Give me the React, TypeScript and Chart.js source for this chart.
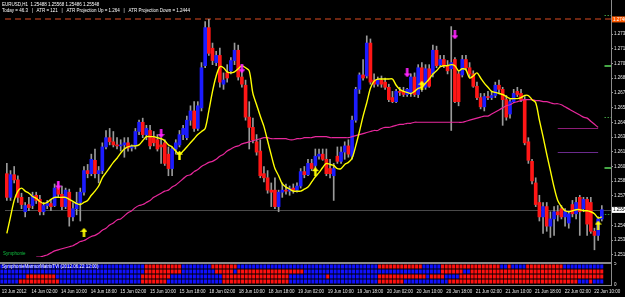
import React, { useEffect, useRef } from 'react';
import { Chart, registerables } from 'chart.js';
Chart.register(...registerables);

// ---------- DATA ----------
const timeTicks = ['13 Jun 2012','14 Jun 02:00','14 Jun 10:00','14 Jun 18:00','15 Jun 02:00','15 Jun 10:00','15 Jun 18:00','18 Jun 02:00','18 Jun 10:00','18 Jun 18:00','19 Jun 02:00','19 Jun 10:00','19 Jun 18:00','20 Jun 02:00','20 Jun 10:00','20 Jun 18:00','21 Jun 02:00','21 Jun 10:00','21 Jun 18:00','22 Jun 02:00','22 Jun 10:00'];
const SLOTS = 165; // H1 bar slots incl. chart shift

const opens = [1.2590,1.2567,1.2589,1.2584,1.2567,1.2553,1.2560,1.2559,1.2569,1.2565,
1.2553,1.2559,1.2561,1.2559,1.2576,1.2570,1.2558,1.2572,1.2548,1.2556,
1.2562,1.2572,1.2593,1.2590,1.2603,1.2590,1.2593,1.2616,1.2625,1.2621,
1.2618,1.2617,1.2618,1.2620,1.2615,1.2617,1.2631,1.2640,1.2628,1.2632,
1.2625,1.2623,1.2618,1.2620,1.2609,1.2595,1.2614,1.2618,1.2628,1.2625,
1.2642,1.2651,1.2634,1.2654,1.2695,1.2732,1.2712,1.2698,1.2705,1.2677,
1.2688,1.2690,1.2700,1.2710,1.2684,1.2676,1.2645,1.2635,1.2621,1.2612,
1.2590,1.2586,1.2574,1.2574,1.2558,1.2572,1.2574,1.2573,1.2576,1.2574,
1.2578,1.2592,1.2589,1.2600,1.2598,1.2607,1.2609,1.2604,1.2595,1.2588,
1.2607,1.2602,1.2611,1.2617,1.2607,1.2642,1.2672,1.2686,1.2685,1.2717,
1.2681,1.2677,1.2681,1.2679,1.2674,1.2664,1.2660,1.2670,1.2670,1.2667,
1.2668,1.2684,1.2667,1.2693,1.2674,1.2692,1.2687,1.2710,1.2696,1.2701,
1.2695,1.2692,1.2701,1.2687,1.2686,1.2701,1.2693,1.2687,1.2675,1.2664,
1.2655,1.2665,1.2664,1.2666,1.2676,1.2672,1.2662,1.2648,1.2660,1.2670,
1.2668,1.2662,1.2621,1.2602,1.2581,1.2562,1.2548,1.2558,1.2539,1.2546,
1.2553,1.2556,1.2548,1.2542,1.2560,1.2551,1.2567,1.2556,1.2565,1.2562,
1.2534,1.2530,1.2546];

const highs = [1.2600,1.2593,1.2597,1.2588,1.2571,1.2562,1.2567,1.2572,1.2572,1.2569,
1.2562,1.2564,1.2565,1.2580,1.2582,1.2578,1.2576,1.2575,1.2562,1.2572,
1.2576,1.2597,1.2599,1.2609,1.2614,1.2597,1.2620,1.2632,1.2634,1.2631,
1.2625,1.2623,1.2625,1.2625,1.2618,1.2634,1.2642,1.2644,1.2637,1.2637,
1.2631,1.2628,1.2625,1.2623,1.2616,1.2616,1.2623,1.2632,1.2637,1.2646,
1.2656,1.2660,1.2660,1.2698,1.2738,1.2740,1.2717,1.2709,1.2712,1.2688,
1.2696,1.2703,1.2717,1.2715,1.2690,1.2681,1.2660,1.2644,1.2628,1.2623,
1.2597,1.2593,1.2581,1.2586,1.2574,1.2581,1.2580,1.2578,1.2580,1.2581,
1.2595,1.2597,1.2604,1.2604,1.2614,1.2614,1.2614,1.2614,1.2604,1.2600,
1.2616,1.2616,1.2621,1.2623,1.2646,1.2674,1.2688,1.2701,1.2724,1.2721,
1.2687,1.2684,1.2685,1.2683,1.2677,1.2670,1.2672,1.2674,1.2674,1.2673,
1.2687,1.2688,1.2696,1.2698,1.2696,1.2696,1.2715,1.2714,1.2705,1.2705,
1.2700,1.2733,1.2703,1.2690,1.2705,1.2705,1.2698,1.2690,1.2679,1.2668,
1.2668,1.2670,1.2670,1.2679,1.2681,1.2674,1.2666,1.2662,1.2672,1.2674,
1.2672,1.2665,1.2625,1.2604,1.2586,1.2569,1.2562,1.2562,1.2553,1.2558,
1.2559,1.2559,1.2556,1.2553,1.2564,1.2567,1.2569,1.2567,1.2567,1.2567,
1.2537,1.2548,1.2559];

const lows = [1.2564,1.2564,1.2581,1.2562,1.2556,1.2548,1.2554,1.2556,1.2561,1.2550,
1.2550,1.2556,1.2554,1.2558,1.2567,1.2555,1.2556,1.2539,1.2544,1.2550,
1.2544,1.2569,1.2586,1.2588,1.2586,1.2581,1.2590,1.2614,1.2618,1.2616,
1.2614,1.2612,1.2606,1.2612,1.2612,1.2614,1.2628,1.2625,1.2623,1.2614,
1.2617,1.2612,1.2600,1.2598,1.2588,1.2588,1.2609,1.2616,1.2623,1.2623,
1.2637,1.2631,1.2632,1.2651,1.2693,1.2705,1.2696,1.2695,1.2674,1.2672,
1.2679,1.2687,1.2696,1.2681,1.2674,1.2642,1.2614,1.2620,1.2608,1.2586,
1.2582,1.2571,1.2558,1.2556,1.2553,1.2567,1.2570,1.2569,1.2571,1.2572,
1.2576,1.2586,1.2588,1.2593,1.2595,1.2604,1.2603,1.2588,1.2586,1.2564,
1.2600,1.2600,1.2604,1.2606,1.2604,1.2640,1.2668,1.2681,1.2683,1.2677,
1.2674,1.2675,1.2674,1.2672,1.2660,1.2659,1.2659,1.2666,1.2665,1.2665,
1.2665,1.2665,1.2664,1.2670,1.2672,1.2674,1.2684,1.2693,1.2694,1.2693,
1.2687,1.2632,1.2659,1.2656,1.2684,1.2691,1.2684,1.2674,1.2662,1.2653,
1.2651,1.2662,1.2662,1.2664,1.2668,1.2637,1.2642,1.2644,1.2659,1.2665,
1.2660,1.2618,1.2600,1.2580,1.2558,1.2544,1.2532,1.2534,1.2528,1.2530,
1.2544,1.2546,1.2539,1.2537,1.2548,1.2546,1.2530,1.2553,1.2530,1.2532,
1.2516,1.2525,1.2544];

const closes = [1.2567,1.2589,1.2584,1.2567,1.2560,1.2559,1.2557,1.2569,1.2564,1.2553,
1.2559,1.2561,1.2558,1.2576,1.2570,1.2558,1.2574,1.2548,1.2556,1.2562,
1.2572,1.2593,1.2590,1.2604,1.2590,1.2593,1.2616,1.2625,1.2621,1.2618,
1.2617,1.2618,1.2620,1.2615,1.2617,1.2631,1.2640,1.2628,1.2634,1.2617,
1.2620,1.2614,1.2616,1.2600,1.2595,1.2614,1.2620,1.2628,1.2634,1.2642,
1.2651,1.2634,1.2656,1.2693,1.2732,1.2707,1.2700,1.2705,1.2679,1.2681,
1.2683,1.2700,1.2710,1.2684,1.2677,1.2645,1.2635,1.2623,1.2611,1.2588,
1.2586,1.2574,1.2572,1.2558,1.2572,1.2574,1.2573,1.2576,1.2574,1.2578,
1.2592,1.2589,1.2600,1.2595,1.2607,1.2609,1.2604,1.2590,1.2590,1.2595,
1.2602,1.2611,1.2617,1.2609,1.2642,1.2672,1.2686,1.2683,1.2717,1.2679,
1.2677,1.2681,1.2677,1.2674,1.2662,1.2660,1.2670,1.2669,1.2667,1.2672,
1.2684,1.2667,1.2693,1.2674,1.2692,1.2675,1.2710,1.2695,1.2701,1.2695,
1.2690,1.2698,1.2660,1.2660,1.2701,1.2693,1.2687,1.2675,1.2664,1.2655,
1.2665,1.2664,1.2666,1.2676,1.2672,1.2662,1.2645,1.2660,1.2668,1.2667,
1.2662,1.2620,1.2603,1.2583,1.2560,1.2548,1.2558,1.2539,1.2546,1.2553,
1.2550,1.2548,1.2553,1.2551,1.2551,1.2562,1.2553,1.2565,1.2541,1.2534,
1.2530,1.2546,1.2555];

// yellow fast smoothing line
const fastLine = [1.2532,1.2548,1.2564,1.2573,1.2576,1.2573,1.2571,1.2568,1.2566,1.2563,
1.2561,1.2562,1.2565,1.2567,1.2567,1.2567,1.2567,1.2565,1.2563,1.2561,
1.2560,1.2562,1.2564,1.2569,1.2573,1.2578,1.2586,1.2591,1.2596,1.2601,
1.2605,1.2610,1.2614,1.2616,1.2617,1.2617,1.2618,1.2622,1.2626,1.2626,
1.2626,1.2625,1.2624,1.2622,1.2618,1.2616,1.2612,1.2609,1.2612,1.2616,
1.2620,1.2624,1.2628,1.2631,1.2634,1.2651,1.2670,1.2685,1.2694,1.2693,
1.2689,1.2688,1.2689,1.2692,1.2695,1.2693,1.2690,1.2668,1.2657,1.2646,
1.2636,1.2622,1.2608,1.2595,1.2588,1.2580,1.2577,1.2575,1.2573,1.2573,
1.2573,1.2575,1.2577,1.2582,1.2587,1.2591,1.2596,1.2600,1.2599,1.2598,
1.2595,1.2595,1.2599,1.2601,1.2605,1.2617,1.2631,1.2646,1.2659,1.2673,
1.2680,1.2682,1.2682,1.2682,1.2682,1.2682,1.2676,1.2672,1.2670,1.2669,
1.2668,1.2670,1.2673,1.2674,1.2678,1.2682,1.2687,1.2690,1.2694,1.2695,
1.2695,1.2696,1.2695,1.2690,1.2692,1.2691,1.2683,1.2685,1.2688,1.2683,
1.2678,1.2674,1.2670,1.2669,1.2668,1.2667,1.2665,1.2663,1.2663,1.2663,
1.2664,1.2666,1.2666,1.2662,1.2659,1.2642,1.2626,1.2609,1.2593,1.2577,
1.2564,1.2558,1.2554,1.2553,1.2554,1.2555,1.2555,1.2554,1.2554,1.2553,
1.2551,1.2547,1.2548];

// magenta slow moving average
const slowLine = [null,null,null,null,null,null,null,null,1.2509,1.2509,
1.2510,1.2511,1.2513,1.2515,1.2516,1.2517,1.2518,1.2519,1.2520,1.2522,
1.2524,1.2525,1.2527,1.2529,1.2530,1.2532,1.2535,1.2537,1.2540,1.2542,
1.2545,1.2546,1.2549,1.2552,1.2554,1.2557,1.2559,1.2560,1.2562,1.2564,
1.2567,1.2569,1.2571,1.2573,1.2574,1.2577,1.2579,1.2582,1.2585,1.2588,
1.2589,1.2592,1.2594,1.2597,1.2599,1.2601,1.2602,1.2604,1.2607,1.2609,
1.2612,1.2614,1.2616,1.2617,1.2619,1.2620,1.2621,1.2622,1.2623,1.2624,
1.2625,1.2625,1.2624,1.2624,1.2624,1.2624,1.2624,1.2623,1.2623,1.2624,
1.2624,1.2625,1.2625,1.2625,1.2626,1.2626,1.2626,1.2626,1.2625,1.2625,
1.2625,1.2625,1.2625,1.2625,1.2626,1.2627,1.2628,1.2629,1.2630,1.2631,
1.2632,1.2632,1.2634,1.2635,1.2635,1.2636,1.2637,1.2638,1.2638,1.2639,
1.2639,1.2640,1.2640,1.2640,1.2640,1.2640,1.2640,1.2640,1.2640,1.2640,
1.2640,1.2640,1.2640,1.2640,1.2640,1.2641,1.2642,1.2643,1.2644,1.2645,
1.2646,1.2646,1.2648,1.2650,1.2652,1.2654,1.2656,1.2657,1.2659,1.2660,
1.2661,1.2662,1.2662,1.2662,1.2661,1.2661,1.2660,1.2660,1.2659,1.2658,
1.2658,1.2657,1.2655,1.2653,1.2651,1.2649,1.2647,1.2645,1.2644,1.2641,
1.2638,1.2635,null];

const upArrowBars = [21, 47, 84, 113, 161];
const upArrowPrices = [1.2533, 1.2608, 1.2592, 1.2676, 1.2540];
const downArrowBars = [14, 42, 64, 109, 122];
const downArrowPrices = [1.2579, 1.2629, 1.2692, 1.2688, 1.2725];

const priceTicks = [1.2740,1.27257,1.27114,1.26971,1.26828,1.26685,1.26542,1.26399,1.26256,1.26113,1.2597,1.25827,1.25684,1.25541,1.25398,1.25255,1.25112];
const priceMin = 1.2509;
const priceMax = 1.2754;

const atrLevel = 1.2740;
const lastPrice = 1.25548;
const zoneLevels = [1.2634, 1.2611];
const zoneBars = [150, 161];
const greenSolidLevels = [1.2695, 1.2596];
const greenDotLevels = [1.2744, 1.2645, 1.2551];

const headerLine1 = 'EURUSD,H1  1.25488 1.25568 1.25486 1.25548';
const headerLine2 = 'Today = 46.3   |   ATR = 121   |   ATR Projection Up = 1.264   |   ATR Projection Down = 1.2444';
const mainIndicatorName = 'Symphonie';
const matrixTitle = 'SymphonieMarmorMatrixTVI (2012.06.22 12:00)';
const matrixScaleLabels = ['0', '5'];

// matrix rows (top to bottom), run-lengths of red ('r') / blue ('b') cells per bar
const matrixRow1: [string, number][] = [['b',39],['r',10],['b',8],['r',7],['b',38],['r',12],['b',5],['r',16],['b',2],['r',1],['b',4],['r',10],['b',11]];
const matrixRow2: [string, number][] = [['b',39],['r',10],['b',9],['r',5],['b',1],['r',18],['b',37],['r',6],['b',2],['r',36]];
const matrixRow3: [string, number][] = [['b',7],['r',8],['b',23],['r',8],['b',14],['r',18],['b',10],['r',1],['b',13],['r',13],['b',1],['r',4],['b',4],['r',39]];
const matrixRow4: [string, number][] = [['b',5],['r',11],['b',22],['r',7],['b',15],['r',18],['b',24],['r',7],['b',12],['r',35],['b',3],['r',1],['b',3]];

// ---------- STYLE ----------
const FONT = 'Liberation Sans';
const BULL = '#1c1cff';
const BEAR = '#ff1616';
const CELL_R = '#ff1010';
const CELL_B = '#1010ff';

function makeArrow(color: string, up: boolean) {
  const c = document.createElement('canvas');
  c.width = 7; c.height = 9;
  const g = c.getContext('2d')!;
  g.fillStyle = color;
  g.beginPath();
  if (up) {
    g.moveTo(3.5, 0); g.lineTo(7, 4); g.lineTo(4.7, 4); g.lineTo(4.7, 9); g.lineTo(2.3, 9); g.lineTo(2.3, 4); g.lineTo(0, 4);
  } else {
    g.moveTo(3.5, 9); g.lineTo(7, 5); g.lineTo(4.7, 5); g.lineTo(4.7, 0); g.lineTo(2.3, 0); g.lineTo(2.3, 5); g.lineTo(0, 5);
  }
  g.closePath(); g.fill();
  return c;
}

export default function App() {
  const mainRef = useRef<HTMLCanvasElement>(null);
  const subRef = useRef<HTMLCanvasElement>(null);

  useEffect(() => {
    document.body.style.margin = '0';
    document.body.style.background = '#000';
    const n = opens.length;
    const labels = Array.from({ length: SLOTS }, (_, i) => String(i));
    const wickData = lows.map((l, i) => [l, highs[i]]);
    const bodyData = opens.map((o, i) => [Math.min(o, closes[i]), Math.max(o, closes[i])]);
    const bodyColors = opens.map((o, i) => (closes[i] >= o ? BULL : BEAR));
    const upData: (number | null)[] = new Array(n).fill(null);
    upArrowBars.forEach((b, k) => { upData[b] = upArrowPrices[k]; });
    const downData: (number | null)[] = new Array(n).fill(null);
    downArrowBars.forEach((b, k) => { downData[b] = downArrowPrices[k]; });

    const txtFont = `4.5px "${FONT}"`;

    const mainOverlay = {
      id: 'mainOverlay',
      beforeDatasetsDraw(chart: any) {
        const { ctx, chartArea: a, scales } = chart;
        const xs = scales.x, ys = scales.y;
        ctx.save();
        // current price line
        const py = Math.round(ys.getPixelForValue(lastPrice)) + 0.5;
        ctx.strokeStyle = '#4a4a4a'; ctx.lineWidth = 1;
        ctx.beginPath(); ctx.moveTo(a.left, py); ctx.lineTo(a.right, py); ctx.stroke();
        // ATR dashed line
        const ay = Math.round(ys.getPixelForValue(atrLevel));
        ctx.strokeStyle = '#6e2612'; ctx.lineWidth = 2; ctx.setLineDash([6, 4]);
        ctx.beginPath(); ctx.moveTo(a.left, ay); ctx.lineTo(a.right, ay); ctx.stroke();
        ctx.setLineDash([]);
        // zone lines
        const zc = ['#8e1d78', '#6a2a8c'];
        zoneLevels.forEach((lv, k) => {
          const yy = Math.round(ys.getPixelForValue(lv)) + 0.5;
          ctx.strokeStyle = zc[k]; ctx.lineWidth = 1;
          ctx.beginPath();
          ctx.moveTo(xs.getPixelForValue(zoneBars[0]), yy);
          ctx.lineTo(xs.getPixelForValue(zoneBars[1]), yy);
          ctx.stroke();
        });
        // green marks in the shift area
        const gx0 = xs.getPixelForValue(n) - 1;
        ctx.strokeStyle = '#5ee05e'; ctx.lineWidth = 1.5;
        greenSolidLevels.forEach((lv) => {
          const yy = Math.round(ys.getPixelForValue(lv));
          ctx.beginPath(); ctx.moveTo(gx0, yy); ctx.lineTo(a.right, yy); ctx.stroke();
        });
        ctx.strokeStyle = '#3e9a3e'; ctx.lineWidth = 1; ctx.setLineDash([1.5, 1.5]);
        greenDotLevels.forEach((lv, k) => {
          const yy = Math.round(ys.getPixelForValue(lv)) + 0.5;
          const x0 = k === 2 ? xs.getPixelForValue(n - 1) : gx0;
          ctx.beginPath(); ctx.moveTo(x0, yy); ctx.lineTo(a.right, yy); ctx.stroke();
        });
        ctx.setLineDash([]);
        ctx.restore();
      },
      afterDraw(chart: any) {
        const { ctx, chartArea: a, scales } = chart;
        const ys = scales.y;
        ctx.save();
        // right border
        ctx.fillStyle = '#8c8c8c';
        ctx.fillRect(a.right, 0, 1, chart.height);
        // header
        ctx.font = txtFont; ctx.fillStyle = '#ffffff'; ctx.textBaseline = 'middle'; ctx.textAlign = 'left';
        ctx.fillText(headerLine1, 2, 5);
        ctx.fillText(headerLine2, 2, 10.5);
        // indicator name
        ctx.fillStyle = '#10c040';
        ctx.fillText(mainIndicatorName, 3, 254);
        // price labels on axis
        const ay = ys.getPixelForValue(atrLevel);
        ctx.fillStyle = '#ff5a00';
        ctx.fillRect(a.right + 1, ay - 3, 14, 6);
        ctx.fillStyle = '#ffffff';
        ctx.fillText(atrLevel.toFixed(4), a.right + 2, ay + 0.3);
        const py = ys.getPixelForValue(lastPrice);
        ctx.fillStyle = '#ffffff';
        ctx.fillRect(a.right + 1, py - 3, 14, 6);
        ctx.fillStyle = '#000000';
        ctx.fillText(lastPrice.toFixed(5), a.right + 2, py + 0.3);
        ctx.restore();
      },
    };

    const mainChart = new Chart(mainRef.current!, {
      type: 'bar',
      data: {
        labels,
        datasets: [
          { type: 'line', data: upData as any, showLine: false, pointStyle: makeArrow('#ffff00', true) as any, pointRadius: 4, order: 1 } as any,
          { type: 'line', data: downData as any, showLine: false, pointStyle: makeArrow('#ff22ff', false) as any, pointRadius: 4, order: 1 } as any,
          { type: 'line', data: fastLine, borderColor: '#ffff00', borderWidth: 1.4, pointRadius: 0, tension: 0.3, order: 2 } as any,
          { type: 'line', data: slowLine as any, borderColor: '#e8289c', borderWidth: 1.2, pointRadius: 0, tension: 0.3, order: 3 } as any,
          { type: 'bar', data: bodyData as any, backgroundColor: bodyColors, barThickness: 3, minBarLength: 1, grouped: false, order: 4 } as any,
          { type: 'bar', data: wickData as any, backgroundColor: '#9a9a9a', barThickness: 1, grouped: false, order: 5 } as any,
        ],
      },
      options: {
        responsive: false,
        animation: false,
        events: [],
        layout: { padding: 0 },
        plugins: { legend: { display: false }, tooltip: { enabled: false } },
        scales: {
          x: { display: false, offset: true },
          y: {
            position: 'right',
            min: priceMin,
            max: priceMax,
            grid: { display: true, drawOnChartArea: false, drawTicks: true, tickLength: 2, color: '#9a9a9a' },
            border: { display: false },
            ticks: { color: '#e8e8e8', padding: 1, font: { family: FONT, size: 4.5 }, callback: (v: any) => Number(v).toFixed(3) },
            afterBuildTicks: (s: any) => { s.ticks = priceTicks.map((v) => ({ value: v })); },
            afterFit: (s: any) => { s.width = 14; s.paddingTop = 0; s.paddingBottom = 0; },
          } as any,
        },
      },
      plugins: [mainOverlay],
    } as any);

    // ---- matrix panel ----
    const rows = [matrixRow1, matrixRow2, matrixRow3, matrixRow4];
    const rowDatasets = rows.map((runs, r) => {
      const colors: string[] = [];
      runs.forEach(([c, cnt]) => { for (let k = 0; k < cnt; k++) colors.push(c === 'r' ? CELL_R : CELL_B); });
      const pos = 3 - r;
      return {
        type: 'bar',
        data: colors.map(() => [pos - 0.4, pos + 0.4]),
        backgroundColor: colors,
        barPercentage: 0.82,
        categoryPercentage: 1,
        grouped: false,
      } as any;
    });

    const subOverlay = {
      id: 'subOverlay',
      beforeDraw(chart: any) {
        const { ctx, chartArea: a } = chart;
        ctx.save();
        ctx.fillStyle = '#8a8a8a';
        ctx.fillRect(0, 0, a.right + 1, 2);
        ctx.fillRect(0, a.bottom, a.right + 1, 1);
        ctx.fillRect(a.right, 0, 1, a.bottom);
        ctx.restore();
      },
      afterDatasetsDraw(chart: any) {
        const { ctx } = chart;
        ctx.save();
        ctx.font = txtFont; ctx.fillStyle = '#ffffff'; ctx.textBaseline = 'middle'; ctx.textAlign = 'left';
        ctx.fillText(matrixTitle, 2, 4.5);
        ctx.restore();
      },
    };

    const subChart = new Chart(subRef.current!, {
      type: 'bar',
      data: { labels, datasets: rowDatasets },
      options: {
        responsive: false,
        animation: false,
        events: [],
        layout: { padding: { top: 2, left: 0, right: 0, bottom: 0 } },
        plugins: { legend: { display: false }, tooltip: { enabled: false } },
        scales: {
          x: {
            offset: true,
            grid: { display: false, drawTicks: false },
            border: { display: false },
            ticks: { autoSkip: false, maxRotation: 0, minRotation: 0, align: 'start', padding: 4, color: '#e8e8e8', font: { family: FONT, size: 4.5 }, callback: (_v: any, i: number) => timeTicks[i] },
            afterBuildTicks: (s: any) => { s.ticks = timeTicks.map((_, k) => ({ value: k * 8 })); },
            afterFit: (s: any) => { s.height = 12; s.paddingLeft = 0; s.paddingRight = 0; },
          } as any,
          y: {
            position: 'right',
            min: -0.7,
            max: 3.5,
            grid: { display: false, drawTicks: false },
            border: { display: false },
            ticks: { color: '#e8e8e8', padding: 3, font: { family: FONT, size: 4.5 }, callback: (_v: any, i: number) => matrixScaleLabels[i] },
            afterBuildTicks: (s: any) => { s.ticks = [{ value: -0.7 }, { value: 3.5 }]; },
            afterFit: (s: any) => { s.width = 14; s.paddingTop = 0; s.paddingBottom = 0; },
          } as any,
        },
      },
      plugins: [subOverlay],
    } as any);

    return () => { mainChart.destroy(); subChart.destroy(); };
  }, []);

  return (
    <div style={{ position: 'fixed', left: 0, top: 0, width: 625, height: 297, background: '#000', overflow: 'hidden' }}>
      <canvas ref={mainRef} width={625} height={262} style={{ position: 'absolute', left: 0, top: 0, width: 625, height: 262 }} />
      <canvas ref={subRef} width={625} height={35} style={{ position: 'absolute', left: 0, top: 262, width: 625, height: 35 }} />
    </div>
  );
}
